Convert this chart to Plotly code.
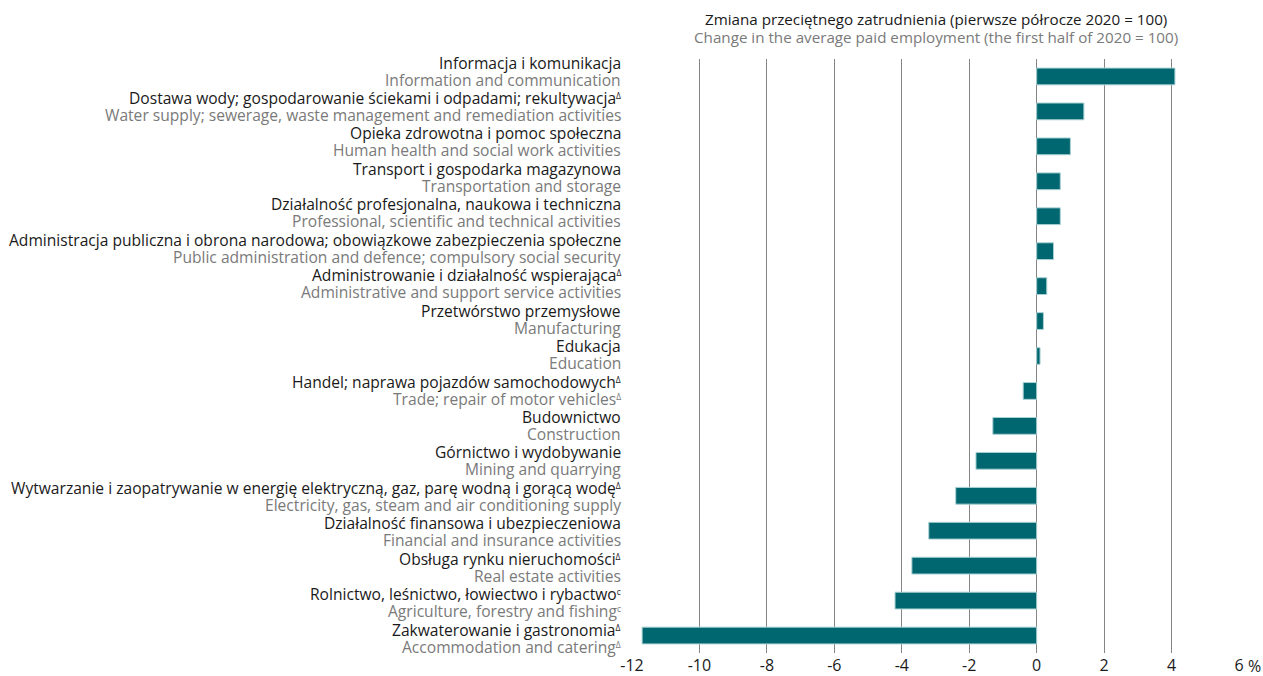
import plotly.graph_objects as go

labels_pl = [
    "Informacja i komunikacja",
    "Dostawa wody; gospodarowanie ściekami i odpadami; rekultywacja|Δ",
    "Opieka zdrowotna i pomoc społeczna",
    "Transport i gospodarka magazynowa",
    "Działalność profesjonalna, naukowa i techniczna",
    "Administracja publiczna i obrona narodowa; obowiązkowe zabezpieczenia społeczne",
    "Administrowanie i działalność wspierająca|Δ",
    "Przetwórstwo przemysłowe",
    "Edukacja",
    "Handel; naprawa pojazdów samochodowych|Δ",
    "Budownictwo",
    "Górnictwo i wydobywanie",
    "Wytwarzanie i zaopatrywanie w energię elektryczną, gaz, parę wodną i gorącą wodę|Δ",
    "Działalność finansowa i ubezpieczeniowa",
    "Obsługa rynku nieruchomości|Δ",
    "Rolnictwo, leśnictwo, łowiectwo i rybactwo|c",
    "Zakwaterowanie i gastronomia|Δ",
]
labels_en = [
    "Information and communication",
    "Water supply; sewerage, waste management and remediation activities",
    "Human health and social work activities",
    "Transportation and storage",
    "Professional, scientific and technical activities",
    "Public administration and defence; compulsory social security",
    "Administrative and support service activities",
    "Manufacturing",
    "Education",
    "Trade; repair of motor vehicles|Δ",
    "Construction",
    "Mining and quarrying",
    "Electricity, gas, steam and air conditioning supply",
    "Financial and insurance activities",
    "Real estate activities",
    "Agriculture, forestry and fishing|c",
    "Accommodation and catering|Δ",
]
values = [4.1, 1.4, 1.0, 0.7, 0.7, 0.5, 0.3, 0.2, 0.1, -0.4, -1.3, -1.8, -2.4, -3.2, -3.7, -4.2, -11.7]

x_ticks = [-12, -10, -8, -6, -4, -2, 0, 2, 4, 6]
x_ticktext = ["-12", "-10", "-8", "-6", "-4", "-2", "0", "2", "4", "6"]
x_unit = "%"

title_pl = "Zmiana przeciętnego zatrudnienia (pierwsze półrocze 2020 = 100)"
title_en = "Change in the average paid employment (the first half of 2020 = 100)"

BLACK = "#1a1a1a"
GREY = "#7a7a7a"
TEAL = "#00666f"
FONT = "Open Sans, sans-serif"
LABEL_SIZE = 15.6
TICK_SIZE = 16


def fmt(s):
    if "|" in s:
        base, mark = s.split("|")
        return f"{base}<span style='font-size:12px'><sup>{mark}</sup></span>"
    return s


n = len(values)
cats = list(range(n))

fig = go.Figure()
fig.add_trace(go.Bar(
    x=values, y=cats, orientation="h",
    marker=dict(color=TEAL, line=dict(color="#a9d1d4", width=1)),
    width=0.48, hoverinfo="x",
))

annotations = []
for i, (p, e) in enumerate(zip(labels_pl, labels_en)):
    annotations.append(dict(
        text=fmt(p), x=0, xref="paper", xanchor="right", xshift=-9,
        y=i, yref="y2", yanchor="middle", yshift=8.5, showarrow=False,
        font=dict(family=FONT, size=LABEL_SIZE, color=BLACK),
    ))
    annotations.append(dict(
        text=fmt(e), x=0, xref="paper", xanchor="right", xshift=-9,
        y=i, yref="y2", yanchor="middle", yshift=-8.5, showarrow=False,
        font=dict(family=FONT, size=LABEL_SIZE, color=GREY),
    ))
annotations.append(dict(
    text=title_pl, x=0.5, xref="paper", xanchor="center",
    y=1, yref="paper", yanchor="middle", yshift=40, showarrow=False,
    font=dict(family=FONT, size=15.2, color=BLACK),
))
annotations.append(dict(
    text=title_en, x=0.5, xref="paper", xanchor="center",
    y=1, yref="paper", yanchor="middle", yshift=22, showarrow=False,
    font=dict(family=FONT, size=15.2, color=GREY),
))
# unit sign after the last x tick label
annotations.append(dict(
    text=x_unit, x=x_ticks[-1], xref="x", xanchor="left", xshift=7,
    y=0, yref="paper", yanchor="middle", yshift=-13, showarrow=False,
    font=dict(family=FONT, size=TICK_SIZE, color=BLACK),
))

fig.update_layout(
    width=1263, height=676,
    margin=dict(l=632, r=24, t=59, b=23, autoexpand=False),
    paper_bgcolor="white", plot_bgcolor="white",
    font=dict(family=FONT, size=15, color=BLACK),
    showlegend=False,
    annotations=annotations,
    xaxis=dict(
        range=[-12, 6], tickvals=x_ticks, ticktext=x_ticktext,
        showgrid=True, gridcolor="#858585", gridwidth=1,
        zeroline=True, zerolinecolor="#858585", zerolinewidth=1,
        showline=False, ticks="", tickfont=dict(size=TICK_SIZE, color=BLACK),
        automargin=False, fixedrange=True, ticklabelstandoff=1,
    ),
    yaxis=dict(
        range=[n - 0.5, -0.5], tickvals=cats,
        showticklabels=False, showgrid=False, zeroline=False, showline=False,
        ticks="", automargin=False, fixedrange=True,
    ),
    # label rows sit on a slightly wider pitch than the bars in the reference
    yaxis2=dict(
        overlaying="y", range=[16.42, -0.339], visible=False,
        showgrid=False, zeroline=False, automargin=False, fixedrange=True,
    ),
)

fig.write_html("out.html", config=dict(displayModeBar=False),
               post_script="document.body.style.margin='0';document.body.style.padding='0';")
